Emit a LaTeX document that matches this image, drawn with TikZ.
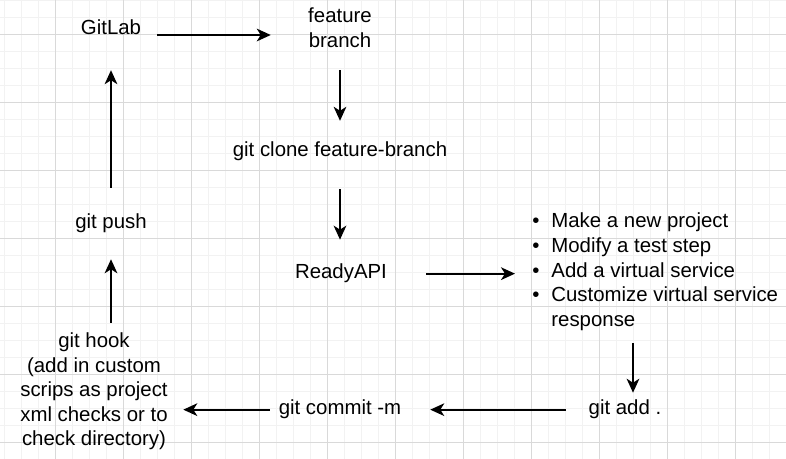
\documentclass[tikz,border=0pt]{standalone}
\usepackage{fontspec}
\setmainfont{Liberation Sans}
\usepackage{tikz}
\usetikzlibrary{arrows.meta}

\tikzset{
	lbl/.style={inner sep=0pt, font=\fontsize{15.3}{18.4}\selectfont, align=center},
	one/.style={lbl, text height=11.2pt, text depth=3.2pt},
	arr/.style={line width=1.5pt, -{Stealth[length=10.5pt,width=9.5pt,inset=3pt]}},
	minor/.style={gray!10, line width=0.75pt},
	major/.style={gray!30, line width=0.75pt}
}

\begin{document}
\begin{tikzpicture}[x=0.75pt,y=-0.75pt]
	\fill[white] (0,0) rectangle (786,459);
	\useasboundingbox (0,0) rectangle (786,459);
	\foreach \x in {4,21,...,786} \draw[minor] (\x,0)--(\x,459);
	\foreach \y in {1,18,...,459} \draw[minor] (0,\y)--(786,\y);
	\foreach \x in {55,123,...,786} \draw[major] (\x,0)--(\x,459);
	\foreach \y in {35,103,...,459} \draw[major] (0,\y)--(786,\y);

	\node[one, anchor=base] (gitlab) at (111,35) {GitLab};
	\node[lbl, anchor=base] (featbranch) at (340,47.5) {feature\\branch};
	\node[one, anchor=base] (clone) at (340,157) {git clone feature-branch};
	\node[one, anchor=base] (readyapi) at (341,279) {ReadyAPI};
	\node[lbl, anchor=base west, align=left] (tasks) at (532,228) {\begin{tabular}[t]{@{}l@{\hspace{9pt}}l@{}}
		•&Make a new project\\
		•&Modify a test step\\
		•&Add a virtual service\\
		•&Customize virtual service\\
		&response
	\end{tabular}};
	\node[one, anchor=base] (gitadd) at (625,415) {git add .};
	\node[one, anchor=base] (commit) at (340,415) {git commit -m};
	\node[lbl, anchor=base] (hook) at (94,446) {git hook\\(add in custom\\scrips as project\\xml checks or to\\check directory)};
	\node[one, anchor=base] (push) at (111,229) {git push};

	\draw[arr, shorten <=11.9pt, shorten >=27.9pt] (gitlab.base east) -- (gitlab.base east -| featbranch.west);
	\draw[arr, shorten <=16.9pt, shorten >=15.75pt] (featbranch.south) -- (clone.north);
	\draw[arr, shorten <=20.8pt, shorten >=18.1pt] (clone.south) -- (clone.south |- readyapi.north);
	\draw[arr, shorten <=29.3pt, shorten >=12.75pt] (readyapi.east) -- (readyapi.east -| tasks.west);
	\draw[arr, shorten <=7.2pt, shorten >=5.3pt] ([xshift=6pt]gitadd.north |- tasks.south) -- ([xshift=6pt]gitadd.north);
	\draw[arr, shorten <=17pt, shorten >=21.6pt] (gitadd.west) -- (commit.east);
	\draw[arr, shorten <=6.6pt, shorten >=11.5pt] (commit.west) -- (commit.west -| hook.east);
	\draw[arr, shorten <=7.5pt, shorten >=19.3pt] (hook.north -| push.south) -- (push.south);
	\draw[arr, shorten <=19.6pt, shorten >=23pt] (push.north) -- (gitlab.south);
\end{tikzpicture}
\end{document}
